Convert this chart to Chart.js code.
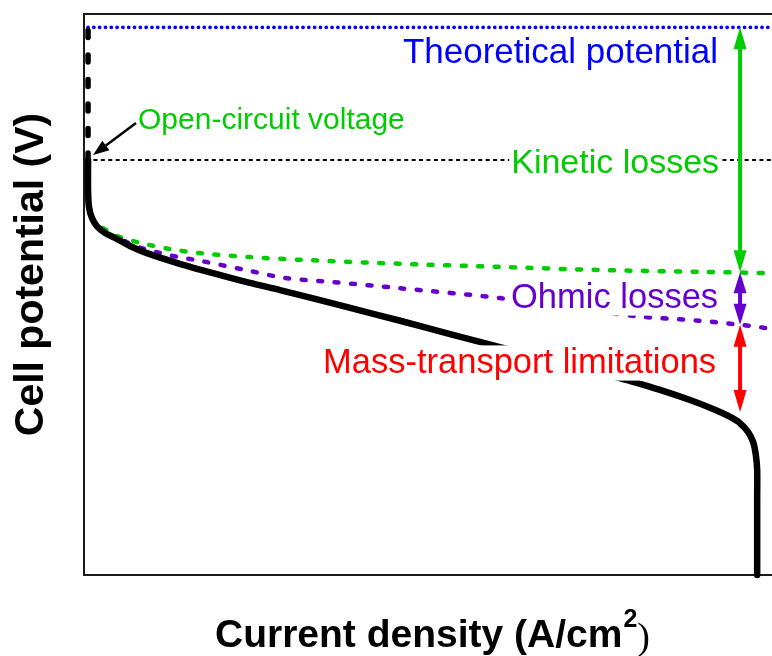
<!DOCTYPE html>
<html>
<head>
<meta charset="utf-8">
<script src="https://cdn.jsdelivr.net/npm/chart.js@4/dist/chart.umd.min.js"></script>
<style>
  html, body { margin: 0; padding: 0; background: #fff; overflow: hidden; }
  #wrap { position: relative; width: 772px; height: 656px; }
</style>
</head>
<body>
<div id="wrap"><canvas id="pol" width="772" height="656"></canvas></div>
<script>
// polarization curve, current density (A/cm2) vs cell potential (V)
const polI = [0.009, 0.009, 0.011, 0.018, 0.029, 0.047, 0.069, 0.102, 0.140, 0.213, 0.287, 0.369, 0.436, 0.592, 0.703, 0.814, 0.925, 1.036, 1.147, 1.221, 1.281, 1.348, 1.403, 1.437, 1.459, 1.477, 1.488, 1.494, 1.497, 1.497, 1.497];
const polV = [0.932, 0.865, 0.827, 0.801, 0.783, 0.768, 0.757, 0.739, 0.723, 0.699, 0.678, 0.656, 0.640, 0.600, 0.571, 0.541, 0.512, 0.483, 0.454, 0.434, 0.416, 0.393, 0.371, 0.355, 0.341, 0.321, 0.299, 0.270, 0.236, 0.168, 0.000];

// activation-only line (kinetic losses)
const actI = [0.042, 0.080, 0.125, 0.191, 0.258, 0.369, 0.480, 0.703, 0.925, 1.147, 1.370, 1.530];
const actV = [0.779, 0.759, 0.746, 0.732, 0.723, 0.714, 0.708, 0.699, 0.692, 0.685, 0.681, 0.678];

// activation + ohmic line
const ohmI = [0.091, 0.113, 0.187, 0.262, 0.369, 0.447, 0.554, 0.703, 0.925, 1.221, 1.370, 1.459, 1.530];
const ohmV = [0.750, 0.739, 0.719, 0.705, 0.683, 0.667, 0.658, 0.644, 0.622, 0.582, 0.571, 0.562, 0.553];

const E_THEO = 1.23;   // theoretical potential
const E_OCV = 0.932;   // open-circuit voltage
const I_MAX = 1.53;
const V_MAX = 1.26;

// loss brackets on the right
const lossI = 1.459;
const lossTop = [1.23, 0.680, 0.562];
const lossBottom = [0.680, 0.562, 0.366];
const lossColors = ['#00cc00', '#6600cc', '#ff0000'];

const xy = (xs, ys) => xs.map((x, i) => ({ x, y: ys[i] }));

const F = "'Liberation Sans', Arial, sans-serif";

function arrowV(ctx, x, yA, yB, color, head, half, w) {
  // double headed vertical arrow, tips at yA (top) and yB (bottom)
  const h = Math.min(head, (yB - yA) * 0.4);
  ctx.save();
  ctx.strokeStyle = color; ctx.fillStyle = color; ctx.lineWidth = w;
  ctx.beginPath(); ctx.moveTo(x, yA + h - 1); ctx.lineTo(x, yB - h + 1); ctx.stroke();
  ctx.beginPath(); ctx.moveTo(x, yA); ctx.lineTo(x - half, yA + h); ctx.lineTo(x + half, yA + h); ctx.closePath(); ctx.fill();
  ctx.beginPath(); ctx.moveTo(x, yB); ctx.lineTo(x - half, yB - h); ctx.lineTo(x + half, yB - h); ctx.closePath(); ctx.fill();
  ctx.restore();
}

function boxedText(ctx, text, xRight, base, size, color, align) {
  ctx.save();
  ctx.font = `${size}px ${F}`;
  const w = ctx.measureText(text).width;
  const x0 = align === 'left' ? xRight : xRight - w;
  ctx.fillStyle = '#fff';
  ctx.fillRect(x0 - 2, base - size * 0.8, w + 4, size * 1.02);
  ctx.fillStyle = color;
  ctx.textAlign = 'left';
  ctx.textBaseline = 'alphabetic';
  ctx.fillText(text, x0, base);
  ctx.restore();
}

const annotations = {
  id: 'annotations',
  afterDatasetsDraw(chart) {
    const ctx = chart.ctx, xA = chart.scales.x, yA = chart.scales.y;
    const ax = xA.getPixelForValue(lossI);

    boxedText(ctx, 'Theoretical potential', ax - 22, 63, 35, '#0000ff');
    boxedText(ctx, 'Kinetic losses', ax - 21, 173, 34, '#00cc00');
    boxedText(ctx, 'Ohmic losses', ax - 22, 308, 34.5, '#6600cc');
    boxedText(ctx, 'Mass-transport limitations', ax - 24, 373, 34.5, '#ff0000');

    lossTop.forEach((v, i) => {
      arrowV(ctx, ax, yA.getPixelForValue(v), yA.getPixelForValue(lossBottom[i]), lossColors[i], 22, 6.5, 4);
    });

    // open-circuit voltage pointer
    ctx.save();
    ctx.font = `30px ${F}`;
    ctx.fillStyle = '#00cc00';
    ctx.fillText('Open-circuit voltage', 138, 129);
    const tx = xA.getPixelForValue(polI[0]) + 5, ty = yA.getPixelForValue(E_OCV) - 5;
    const sx = 136, sy = 123;
    const ang = Math.atan2(ty - sy, tx - sx);
    const hl = 16, hw = 6;
    const bx = tx - hl * Math.cos(ang), by = ty - hl * Math.sin(ang);
    ctx.strokeStyle = '#000'; ctx.fillStyle = '#000'; ctx.lineWidth = 2.5;
    ctx.beginPath(); ctx.moveTo(sx, sy); ctx.lineTo(bx, by); ctx.stroke();
    ctx.beginPath();
    ctx.moveTo(tx, ty);
    ctx.lineTo(bx + hw * Math.sin(ang), by - hw * Math.cos(ang));
    ctx.lineTo(bx - hw * Math.sin(ang), by + hw * Math.cos(ang));
    ctx.closePath(); ctx.fill();
    ctx.restore();
  },
  afterDraw(chart) {
    const ctx = chart.ctx, ca = chart.chartArea;
    ctx.save();
    ctx.fillStyle = '#000';
    // y title
    ctx.font = `bold 41px ${F}`;
    ctx.translate(32, (ca.top + ca.bottom) / 2 - 20);
    ctx.rotate(-Math.PI / 2);
    ctx.textAlign = 'center'; ctx.textBaseline = 'middle';
    ctx.fillText('Cell potential (V)', 0, 0);
    ctx.restore();

    // x title with superscript
    ctx.save();
    ctx.fillStyle = '#000';
    ctx.textBaseline = 'alphabetic'; ctx.textAlign = 'left';
    const main = 'Current density (A/cm', sup = '2', close = ')';
    const fMain = `bold 39px ${F}`, fSup = `bold 25px ${F}`, fClose = `38px 'Liberation Serif', 'Times New Roman', serif`;
    ctx.font = fMain; const w1 = ctx.measureText(main).width;
    ctx.font = fSup; const w2 = ctx.measureText(sup).width;
    ctx.font = fClose; const w3 = ctx.measureText(close).width;
    let x = (ca.left + ca.right) / 2 - (w1 + w2 + w3) / 2 + 4;
    const base = 647;
    ctx.font = fMain; ctx.fillText(main, x, base); x += w1 + 1;
    ctx.font = fSup; ctx.fillText(sup, x, base - 20); x += w2;
    ctx.font = fClose; ctx.fillText(close, x, base + 2);
    ctx.restore();
  }
};

const flat = { grid: { display: false }, ticks: { display: false } };
const frame = { display: true, color: '#1a1a1a', width: 2 };

new Chart(document.getElementById('pol'), {
  type: 'line',
  data: {
    datasets: [
      {
        label: 'Polarization curve', data: xy(polI, polV),
        borderColor: '#000', borderWidth: 6.5, pointRadius: 0, tension: 0.25,
        borderCapStyle: 'round', borderJoinStyle: 'round', clip: false, order: 0
      },
      {
        label: 'OCV to theoretical', data: xy([polI[0], polI[0]], [E_OCV, E_THEO]),
        borderColor: '#000', borderWidth: 5.5, pointRadius: 0, borderDash: [7, 17.5],
        borderCapStyle: 'round', order: 1
      },
      {
        label: 'Theoretical potential', data: xy([polI[0], I_MAX], [E_THEO, E_THEO]),
        borderColor: '#0000ff', borderWidth: 3.8, pointRadius: 0, borderDash: [0.01, 5.8],
        borderCapStyle: 'round', order: 2
      },
      {
        label: 'Open-circuit voltage', data: xy([polI[0] + 0.012, I_MAX], [E_OCV, E_OCV]),
        borderColor: '#000', borderWidth: 2, pointRadius: 0, borderDash: [4, 3.4], order: 3
      },
      {
        label: 'Activation', data: xy(actI, actV),
        borderColor: '#00cc00', borderWidth: 4.5, pointRadius: 0, tension: 0.3,
        borderDash: [4, 12.5], borderCapStyle: 'round', order: 4
      },
      {
        label: 'Activation + ohmic', data: xy(ohmI, ohmV),
        borderColor: '#6600cc', borderWidth: 4.5, pointRadius: 0, tension: 0.3,
        borderDash: [4, 12.5], borderCapStyle: 'round', order: 5
      }
    ]
  },
  options: {
    responsive: false, animation: false, parsing: true,
    layout: { padding: { left: 84, top: 14, right: 0, bottom: 81 } },
    plugins: { legend: { display: false }, tooltip: { enabled: false } },
    scales: {
      x: { type: 'linear', min: 0, max: I_MAX, position: 'bottom', ...flat, border: frame, afterFit: s => { s.height = 0; } },
      xTop: { type: 'linear', axis: 'x', min: 0, max: I_MAX, position: 'top', ...flat, border: frame, afterFit: s => { s.height = 0; } },
      y: { type: 'linear', min: 0, max: V_MAX, position: 'left', ...flat, border: frame, afterFit: s => { s.width = 0; } }
    }
  },
  plugins: [annotations]
});
</script>
</body>
</html>
